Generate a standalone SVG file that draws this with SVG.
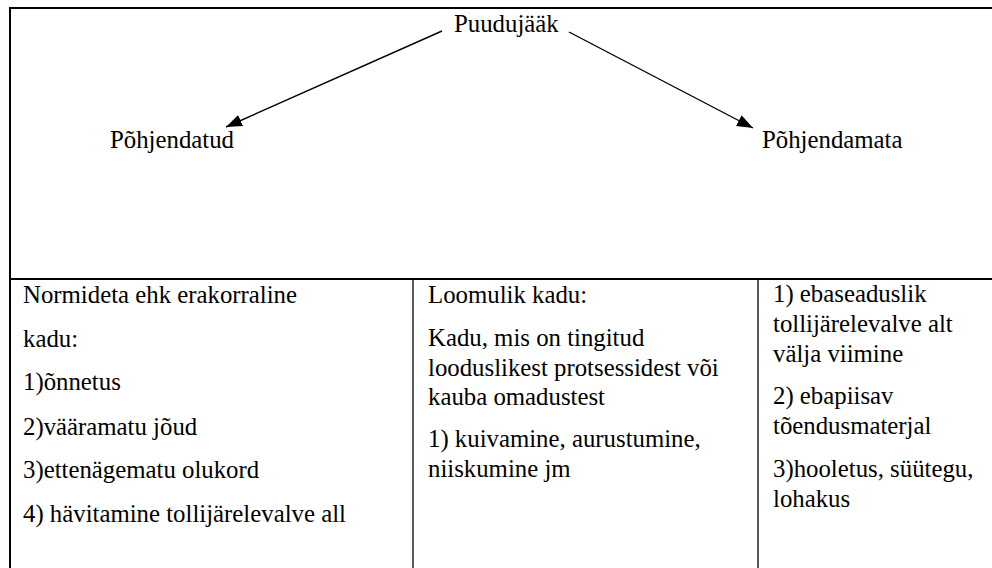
<svg xmlns="http://www.w3.org/2000/svg" width="992" height="568" viewBox="0 0 992 568">
<style>
  .t { font-family: 'Liberation Serif', 'Times New Roman', Times, serif; font-size: 24.8px; fill: #000; }
  .frame { stroke: #000; stroke-width: 2; fill: none; }
  .div { stroke: #000; stroke-width: 1.3; fill: none; }
  .conn { stroke: #000; stroke-width: 1.4; fill: none; marker-end: url(#arr); }
</style>
<defs>
  <marker id="arr" markerUnits="userSpaceOnUse" markerWidth="18" markerHeight="14" refX="16" refY="6" orient="auto">
    <path d="M0,0 L16,6 L0,12 Z" fill="#000"/>
  </marker>
</defs>
<rect width="992" height="568" fill="#fff"/>
<g id="frame">
  <path class="frame" d="M10,568 V8 H992"/>
  <path class="frame" d="M10,279 H992"/>
  <path class="div" d="M413,279 V568"/>
  <path class="div" d="M758,279 V568"/>
</g>
<g id="connectors">
  <line class="conn" x1="442" y1="31" x2="226" y2="127"/>
  <line class="conn" x1="569" y1="32" x2="753" y2="128"/>
</g>
<g class="t" font-family="Liberation Serif, serif">
<g id="node-puudujaak">
  <text x="454" y="32">Puudujääk</text>
</g>
<g id="node-pohjendatud">
  <text x="110" y="148">Põhjendatud</text>
</g>
<g id="node-pohjendamata">
  <text x="762" y="148">Põhjendamata</text>
</g>
<g id="node-normideta">
  <text x="23" y="303">Normideta ehk erakorraline</text>
  <text x="23" y="347">kadu:</text>
  <text x="23" y="390">1)õnnetus</text>
  <text x="23" y="435">2)vääramatu jõud</text>
  <text x="23" y="478">3)ettenägematu olukord</text>
  <text x="23" y="522">4) hävitamine tollijärelevalve all</text>
</g>
<g id="node-loomulik">
  <text x="428" y="303">Loomulik kadu:</text>
  <text x="428" y="346">Kadu, mis on tingitud</text>
  <text x="428" y="376">looduslikest protsessidest või</text>
  <text x="428" y="405">kauba omadustest</text>
  <text x="428" y="447">1) kuivamine, aurustumine,</text>
  <text x="428" y="477">niiskumine jm</text>
</g>
<g id="node-pohjendamata-list">
  <text x="773" y="302">1) ebaseaduslik</text>
  <text x="773" y="332">tollijärelevalve alt</text>
  <text x="773" y="362">välja viimine</text>
  <text x="773" y="404">2) ebapiisav</text>
  <text x="773" y="434">tõendusmaterjal</text>
  <text x="773" y="477">3)hooletus, süütegu,</text>
  <text x="773" y="507">lohakus</text>
</g>
</g>
</svg>
